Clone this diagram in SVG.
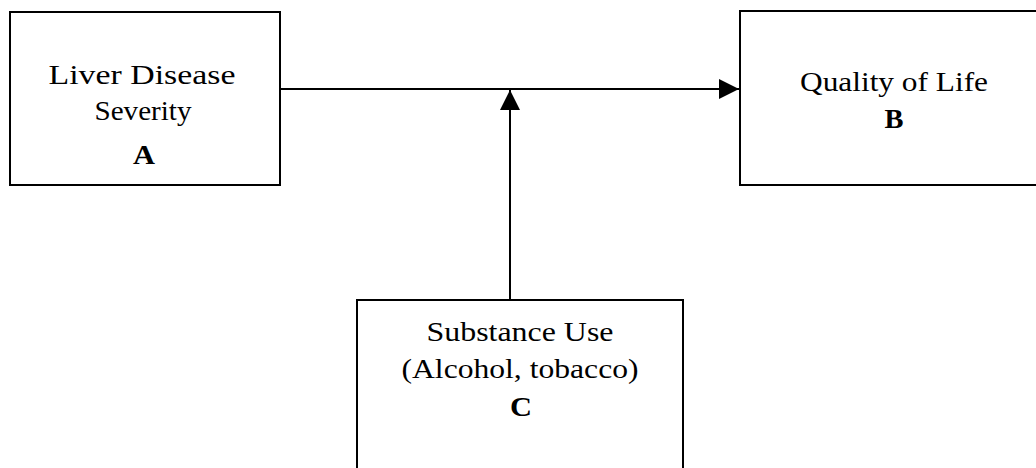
<svg xmlns="http://www.w3.org/2000/svg" width="1036" height="468" viewBox="0 0 1036 468">
  <style>
    .box { fill: #ffffff; stroke: #000000; stroke-width: 2; }
    .lbl { font-family: "Liberation Serif", "Times New Roman", serif; font-size: 28px; fill: #000000; text-anchor: middle; }
    .key { font-weight: bold; }
    .edge { stroke: #000000; stroke-width: 2; fill: none; }
  </style>
  <defs>
    <marker id="arrow" viewBox="0 0 20 20" refX="20" refY="10" markerWidth="20" markerHeight="20" markerUnits="userSpaceOnUse" orient="auto">
      <path d="M0,0 L20,10 L0,20 Z" fill="#000000"/>
    </marker>
  </defs>
  <rect width="1036" height="468" fill="#ffffff"/>

  <g id="node-a">
    <rect class="box" x="10" y="12" width="270" height="173"/>
    <text class="lbl" x="142" y="84" textLength="187" lengthAdjust="spacingAndGlyphs">Liver Disease</text>
    <text class="lbl" x="143" y="120" textLength="97" lengthAdjust="spacingAndGlyphs">Severity</text>
    <text class="lbl key" x="144" y="164" textLength="22" lengthAdjust="spacingAndGlyphs">A</text>
  </g>

  <g id="node-b">
    <rect class="box" x="740" y="11" width="320" height="174"/>
    <text class="lbl" x="894" y="91" textLength="188" lengthAdjust="spacingAndGlyphs">Quality of Life</text>
    <text class="lbl key" x="894" y="128" textLength="19" lengthAdjust="spacingAndGlyphs">B</text>
  </g>

  <g id="node-c">
    <rect class="box" x="357" y="300" width="326" height="190"/>
    <text class="lbl" x="520" y="341" textLength="187" lengthAdjust="spacingAndGlyphs">Substance Use</text>
    <text class="lbl" x="520" y="378" textLength="237" lengthAdjust="spacingAndGlyphs">(Alcohol, tobacco)</text>
    <text class="lbl key" x="521" y="416" textLength="22" lengthAdjust="spacingAndGlyphs">C</text>
  </g>

  <g id="connectors">
    <line class="edge" x1="280" y1="89" x2="739" y2="89" marker-end="url(#arrow)"/>
    <line class="edge" x1="510" y1="300" x2="510" y2="90" marker-end="url(#arrow)"/>
  </g>
</svg>
